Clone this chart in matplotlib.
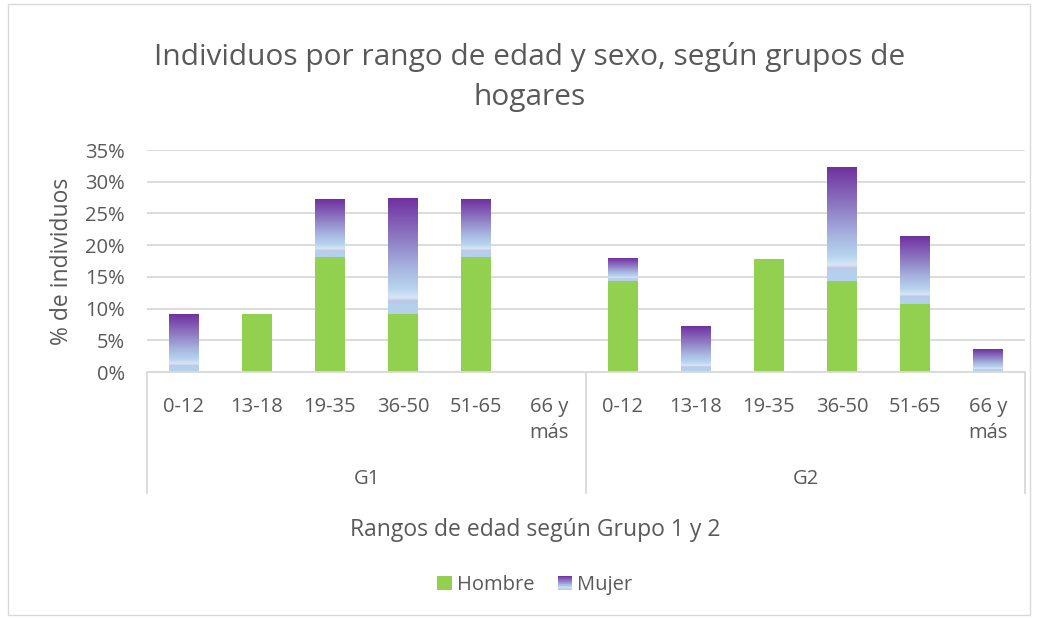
import numpy as np
import matplotlib.pyplot as plt
from matplotlib.colors import LinearSegmentedColormap
from matplotlib.patches import Rectangle, Patch
from matplotlib.legend_handler import HandlerBase

plt.rcParams['font.family'] = ['Open Sans', 'DejaVu Sans']

rangos = ["0-12", "13-18", "19-35", "36-50", "51-65", "66 y\nmás"]
grupos = ["G1", "G2"]
hombre = [0, 9.09, 18.18, 9.09, 18.18, 0,
          14.29, 0, 17.86, 14.29, 10.71, 0]
mujer = [9.09, 0, 9.09, 18.18, 9.09, 0,
         3.57, 7.14, 0, 17.86, 10.71, 3.57]

gris = "#595959"
verde = "#92D050"
cmap = LinearSegmentedColormap.from_list("mujer", [
    (0.0, "#7030A0"), (0.35, "#8E7CC3"), (0.6, "#A6B4DF"),
    (0.78, "#B8D4EE"), (0.86, "#D6E7F7"), (0.89, "#C4C2E2"),
    (0.91, "#B4D0EC"), (1.0, "#B4D0EC")])

fig = plt.figure(figsize=(10.39, 6.19), dpi=100)
fig.patches.append(Rectangle((8 / 1039, 4 / 619), 1022 / 1039, 611 / 619,
                             transform=fig.transFigure, fill=False,
                             edgecolor="#D9D9D9", lw=1))
ax = fig.add_axes([147 / 1039, 1 - 372 / 619, 878 / 1039, 222 / 619])

x = np.arange(len(hombre))
w = 0.41
ax.bar(x, hombre, width=w, color=verde, zorder=2)
grad = np.linspace(0, 1, 256).reshape(-1, 1)
for xi, b, m in zip(x, hombre, mujer):
    if m > 0:
        ax.imshow(grad, extent=[xi - w / 2, xi + w / 2, b, b + m],
                  aspect='auto', cmap=cmap, origin='upper', zorder=2,
                  interpolation='bilinear')

ax.set_xlim(-0.5, len(x) - 0.5)
ax.set_ylim(0, 35)
ax.set_yticks(np.arange(0, 36, 5))
ax.set_yticklabels([f"{v}%" for v in range(0, 36, 5)], fontsize=14.5, color=gris)
ax.grid(axis='y', color="#D9D9D9", lw=1.3, zorder=0)
ax.set_axisbelow(True)
for s in ax.spines.values():
    s.set_visible(False)
ax.tick_params(axis='y', length=0, pad=16)
ax.set_xticks(x)
ax.set_xticklabels(rangos * 2, fontsize=14.5, color=gris, va='top',
                   linespacing=1.4)
ax.tick_params(axis='x', length=0, pad=18)

# marco del eje categórico
trans = ax.transAxes
ax.plot([0, 1], [0, 0], transform=trans, color="#D9D9D9", lw=1.3, clip_on=False)
for xv in [0, 0.5, 1]:
    ax.plot([xv, xv], [0, -0.545], transform=trans, color="#D9D9D9", lw=1.3,
            clip_on=False)
for i, g in enumerate(grupos):
    ax.text(0.25 + 0.5 * i, -0.48, g, transform=trans, ha='center',
            va='center', fontsize=14.5, color=gris)

fig.text(62 / 1039, 1 - 261 / 619, "% de individuos", rotation=90,
         ha='center', va='center', fontsize=16.5, color=gris)
fig.text(535 / 1039, 1 - 530 / 619, "Rangos de edad según Grupo 1 y 2",
         ha='center', va='center', fontsize=16.5, color=gris)
fig.text(530 / 1039, 1 - 77 / 619,
         "Individuos por rango de edad y sexo, según grupos de\nhogares",
         ha='center', va='center', fontsize=21.5, color=gris, linespacing=1.5)


class HandlerGradiente(HandlerBase):
    def create_artists(self, legend, orig_handle, xd, yd, width, height,
                       fontsize, trans):
        n = 20
        arts = []
        for k in range(n):
            arts.append(Rectangle((xd, yd + height * k / n), width, height / n,
                                  facecolor=cmap(1 - (k + 0.5) / n),
                                  edgecolor='none', transform=trans))
        return arts


h1 = Patch(facecolor=verde)
h2 = Patch(facecolor="#7030A0")
fig.legend([h1, h2], ["Hombre", "Mujer"], loc='center',
           bbox_to_anchor=(535 / 1039, 1 - 585 / 619), ncol=2, frameon=False,
           fontsize=14.5, labelcolor=gris, handlelength=0.7, handleheight=0.7,
           handletextpad=0.25, columnspacing=1.2,
           handler_map={h2: HandlerGradiente()})

fig.savefig("out.png", dpi=100)
